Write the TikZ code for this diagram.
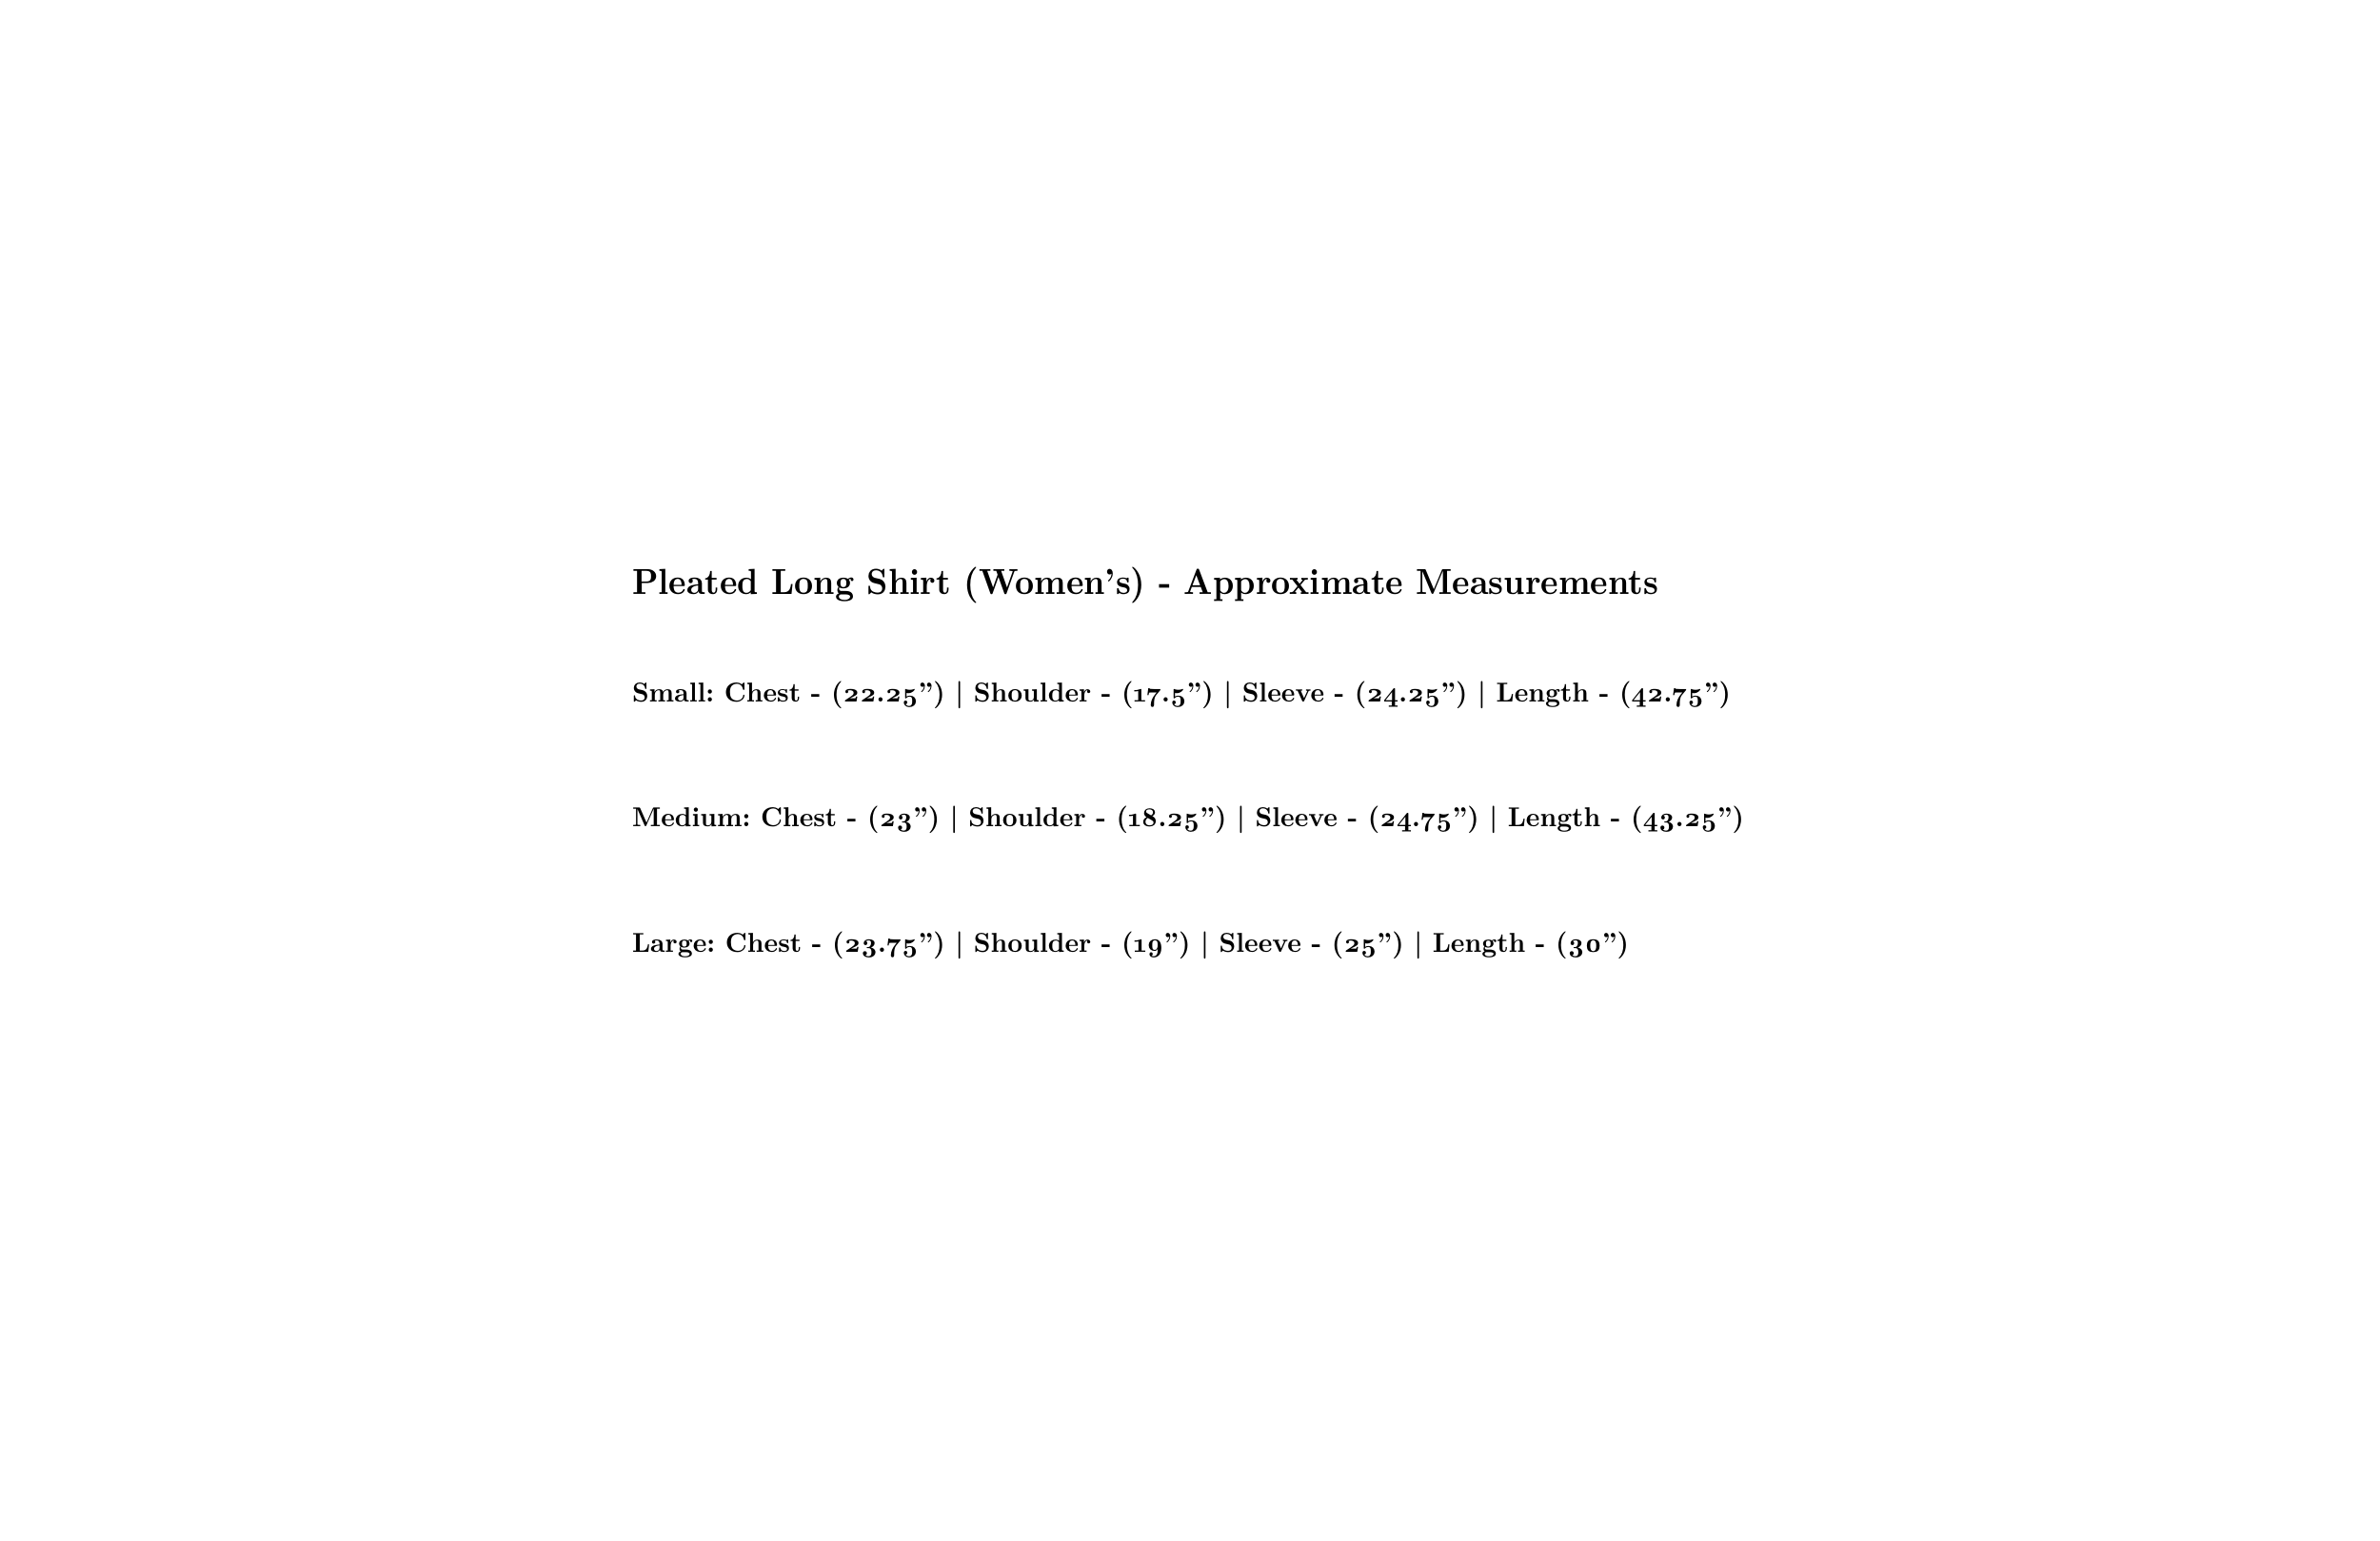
\documentclass[tikz,border=0pt]{standalone}
\usepackage{fontspec}
\setmainfont{lmroman10}[Extension=.otf, UprightFont=*-regular, BoldFont=*-bold, ItalicFont=*-italic, Numbers=OldStyle]
\usepackage{graphicx}
\frenchspacing
\begin{document}
\begin{tikzpicture}
\tikzset{line/.style={anchor=base west, inner sep=0pt, outer sep=0pt, text=black, font=\bfseries}}
\fill[white] (0,0) rectangle (25,16.18);
\useasboundingbox (0,0) rectangle (25,16.18);
\node[line] (title) at (6.64,9.94) {\resizebox{10.78cm}{0.285cm}{Pleated Long Shirt (Women’s) - Approximate Measurements}};
\node[line] (small) at (6.64,8.81) {\resizebox{11.54cm}{0.215cm}{Small: Chest - (22.25”) | Shoulder - (17.5”) | Sleeve - (24.25”) | Length - (42.75”)}};
\node[line] (medium) at (6.64,7.50) {\resizebox{11.68cm}{0.215cm}{Medium: Chest - (23”) | Shoulder - (18.25”) | Sleeve - (24.75”) | Length - (43.25”)}};
\node[line] (large) at (6.64,6.18) {\resizebox{10.47cm}{0.215cm}{Large: Chest - (23.75”) | Shoulder - (19”) | Sleeve - (25”) | Length - (30”)}};
\end{tikzpicture}
\end{document}
